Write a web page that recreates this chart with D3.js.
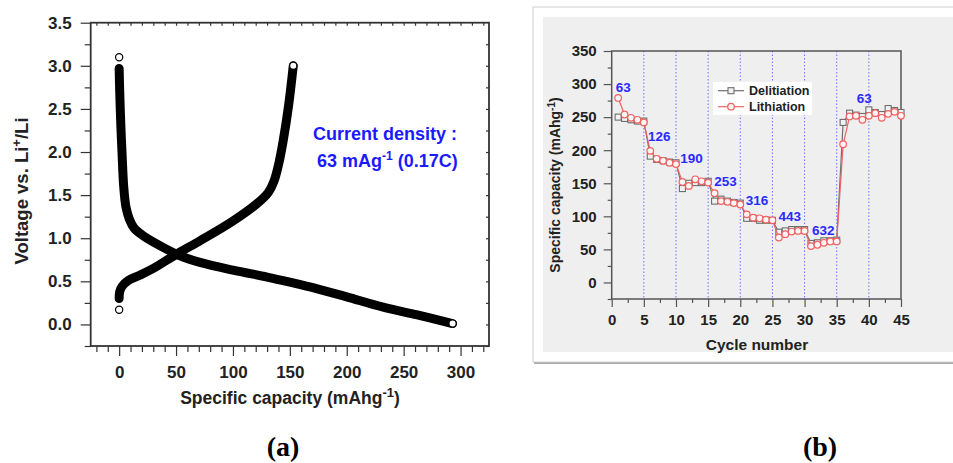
<!doctype html>
<html>
<head>
<script src="https://d3js.org/d3.v7.min.js"></script>
<style>
  body { margin: 0; background: #fff; }
  text { font-family: "Liberation Sans", Arial, sans-serif; }
</style>
</head>
<body>
<div id="chart"></div>
<script>

// ---- panel (a) data: voltage profile [capacity mAh/g, voltage V] ----
var lithiationCurve = [
  [0, 3.10], [0, 2.97], [0.5, 2.70], [1.5, 2.30], [2.5, 2.00], [4, 1.60], [6, 1.36],
  [9, 1.22], [13, 1.12], [20, 1.04], [35, 0.92], [53, 0.80], [71, 0.72], [100, 0.63],
  [130, 0.55], [150, 0.49], [175, 0.41], [200, 0.32], [232, 0.20], [262, 0.11], [293, 0.01]
];
var delithiationCurve = [
  [0, 0.17], [0, 0.30], [0.5, 0.38], [2.5, 0.44], [8, 0.51], [18, 0.57], [30, 0.65],
  [51, 0.82], [71, 0.97], [100, 1.20], [121, 1.40], [131, 1.53], [136, 1.66],
  [140, 1.85], [144, 2.12], [149, 2.55], [153, 3.00]
];
var voltTicks = [0, 0.5, 1.0, 1.5, 2.0, 2.5, 3.0, 3.5];
var capTicks = [0, 50, 100, 150, 200, 250, 300];

// ---- panel (b) data: rate capability ----
var cycles = d3.range(1, 46);
var delitiation = [250, 248, 246, 244, 244, 191, 186, 184, 182, 181,
                   142, 150, 151, 151, 153, 123, 126, 123, 121, 120,
                   97, 97, 94, 94, 94, 76, 78, 80, 80, 80,
                   59, 60, 63, 63, 64, 242, 256, 253, 251, 261,
                   257, 254, 263, 260, 257];
var lithiation = [279, 254, 249, 246, 242, 199, 187, 184, 181, 179,
                  152, 146, 156, 153, 151, 135, 123, 122, 120, 118,
                  103, 98, 97, 95, 94, 68, 73, 77, 78, 78,
                  55, 57, 60, 62, 62, 209, 251, 252, 246, 252,
                  256, 249, 255, 258, 252];
var rateLabels = ["63", "126", "190", "253", "316", "443", "632", "63"];
var rateLabelPos = [[1.8, 295], [7.4, 221], [12.4, 188], [17.7, 153], [22.6, 124], [27.7, 100], [32.9, 79], [39.3, 279]];
var dividerCycles = [5, 10, 15, 20, 25, 30, 35, 40];

var svg = d3.select("#chart").append("svg")
    .attr("width", 953)
    .attr("height", 463);

// ================= panel (a) =================
var xa = d3.scaleLinear().domain([-25, 325]).range([90.7, 489]);
var ya = d3.scaleLinear().domain([-0.25, 3.5]).range([346, 22.7]);

var ga = svg.append("g");

// minor ticks
ga.append("g")
    .attr("class", "tka")
    .attr("transform", "translate(0,346)")
    .call(d3.axisBottom(xa).tickValues(d3.range(-20, 330, 10).filter(function(d) { return d % 50 != 0; }))
      .tickSize(6).tickFormat(""));
ga.append("g")
    .attr("class", "tka")
    .attr("transform", "translate(90.7,0)")
    .call(d3.axisLeft(ya).tickValues(d3.range(-0.25, 3.5, 0.5)).tickSize(6).tickFormat(""));
// mirror ticks top / right
ga.append("g")
    .attr("class", "tka")
    .attr("transform", "translate(0,22.7)")
    .call(d3.axisBottom(xa).tickValues(d3.range(-20, 330, 10)).tickSize(3).tickFormat(""));
ga.append("g")
    .attr("class", "tka")
    .attr("transform", "translate(489,0)")
    .call(d3.axisLeft(ya).tickValues(d3.range(-0.25, 3.5, 0.25)).tickSize(3).tickFormat(""));

// major axes
ga.append("g")
    .attr("class", "tka axa")
    .attr("transform", "translate(0,346)")
    .call(d3.axisBottom(xa).tickValues(capTicks).tickSize(10).tickPadding(10).tickFormat(d3.format("d")));
ga.append("g")
    .attr("class", "tka axa")
    .attr("transform", "translate(90.7,0)")
    .call(d3.axisLeft(ya).tickValues(voltTicks).tickSize(10).tickPadding(9).tickFormat(d3.format(".1f")));

ga.selectAll(".axa text")
    .style("font-size", "17px")
    .style("font-weight", "bold")
    .attr("fill", "#222");
ga.selectAll(".tka .domain").remove();
ga.selectAll(".tka line").attr("stroke", "#333").attr("stroke-width", 1.2);

// frame
ga.append("rect")
    .attr("x", 90.7).attr("y", 22.7)
    .attr("width", 489 - 90.7).attr("height", 346 - 22.7)
    .attr("fill", "none").attr("stroke", "#333").attr("stroke-width", 1.8);

// thick dense-point bands
var lineA = d3.line()
    .curve(d3.curveCatmullRom.alpha(0.5))
    .x(function(d) { return xa(d[0]); })
    .y(function(d) { return ya(d[1]); });

[lithiationCurve, delithiationCurve].forEach(function(c) {
  ga.append("path")
      .datum(c.slice(1))
      .attr("d", lineA)
      .attr("fill", "none")
      .attr("stroke", "#000")
      .attr("stroke-width", 9)
      .attr("stroke-linecap", "round")
      .attr("stroke-linejoin", "round");
});

var ends = [lithiationCurve[0], lithiationCurve[lithiationCurve.length - 1],
            delithiationCurve[0], delithiationCurve[delithiationCurve.length - 1]];
ga.selectAll(".endpt")
    .data(ends)
    .enter().append("circle")
    .attr("cx", function(d) { return xa(d[0]); })
    .attr("cy", function(d) { return ya(d[1]); })
    .attr("r", 3.6)
    .attr("fill", "#fff")
    .attr("stroke", "#000")
    .attr("stroke-width", 1.2);

// labels
var vl = ga.append("text")
    .attr("transform", "translate(28,191) rotate(-90)")
    .attr("text-anchor", "middle")
    .style("font-size", "18.5px").style("font-weight", "bold")
    .attr("fill", "#222");
vl.append("tspan").text("Voltage vs. Li");
vl.append("tspan").attr("baseline-shift", "super").style("font-size", "13px").text("+");
vl.append("tspan").text("/Li");

var xl = ga.append("text")
    .attr("x", 290).attr("y", 404)
    .attr("text-anchor", "middle")
    .style("font-size", "17.5px").style("font-weight", "bold")
    .attr("fill", "#222");
xl.append("tspan").text("Specific capacity (mAhg");
xl.append("tspan").attr("baseline-shift", "super").style("font-size", "13px").text("-1");
xl.append("tspan").text(")");

var ann = ga.append("g").attr("fill", "#1a1aff")
    .style("font-size", "18px").style("font-weight", "bold");
ann.append("text").attr("x", 313).attr("y", 140).text("Current density :");
var ann2 = ann.append("text").attr("x", 317).attr("y", 167);
ann2.append("tspan").text("63 mAg");
ann2.append("tspan").attr("baseline-shift", "super").style("font-size", "12px").text("-1");
ann2.append("tspan").text(" (0.17C)");

svg.append("text")
    .attr("x", 283).attr("y", 456)
    .attr("text-anchor", "middle")
    .style("font-family", "'Liberation Serif', 'Times New Roman', serif")
    .style("font-size", "28px").style("font-weight", "bold")
    .text("(a)");

// ================= panel (b) =================
var gb = svg.append("g");

gb.append("rect")
    .attr("x", 534).attr("y", 9).attr("width", 430).attr("height", 355)
    .attr("fill", "#a8a8a8");
gb.append("rect")
    .attr("x", 533).attr("y", 7).attr("width", 430).attr("height", 355)
    .attr("fill", "#fff").attr("stroke", "#d0d0d0").attr("stroke-width", 1);
gb.append("rect")
    .attr("x", 543).attr("y", 17).attr("width", 420).attr("height", 335)
    .attr("fill", "#efefef");

var xb = d3.scaleLinear().domain([0, 45]).range([611.7, 901]);
var yb = d3.scaleLinear().domain([-25, 350]).range([299, 51]);

// dotted dividers
gb.selectAll(".divider")
    .data(dividerCycles)
    .enter().append("line")
    .attr("class", "divider")
    .attr("x1", function(d) { return xb(d); })
    .attr("x2", function(d) { return xb(d); })
    .attr("y1", yb(350)).attr("y2", yb(-25))
    .attr("stroke", "#7070ff")
    .attr("stroke-width", 1)
    .attr("stroke-dasharray", "1.5,2");

// minor ticks
gb.append("g")
    .attr("class", "tkb")
    .attr("transform", "translate(0,299)")
    .call(d3.axisBottom(xb).tickValues(d3.range(2.5, 45, 5)).tickSize(4).tickFormat(""));
gb.append("g")
    .attr("class", "tkb")
    .attr("transform", "translate(611.7,0)")
    .call(d3.axisLeft(yb).tickValues(d3.range(-25, 350, 50)).tickSize(4).tickFormat(""));

gb.append("g")
    .attr("class", "tkb axb")
    .attr("transform", "translate(0,299)")
    .call(d3.axisBottom(xb).tickValues(d3.range(0, 50, 5)).tickSize(8).tickPadding(7));
gb.append("g")
    .attr("class", "tkb axb")
    .attr("transform", "translate(611.7,0)")
    .call(d3.axisLeft(yb).tickValues(d3.range(0, 400, 50)).tickSize(8).tickPadding(7));

gb.selectAll(".axb text")
    .style("font-size", "15px").style("font-weight", "bold")
    .attr("fill", "#222");
gb.selectAll(".tkb .domain").remove();
gb.selectAll(".tkb line").attr("stroke", "#555").attr("stroke-width", 1.2);

gb.append("rect")
    .attr("x", 611.7).attr("y", 51)
    .attr("width", 901 - 611.7).attr("height", 299 - 51)
    .attr("fill", "none").attr("stroke", "#555").attr("stroke-width", 1.5);

// series
var lineB = d3.line()
    .x(function(d, i) { return xb(cycles[i]); })
    .y(function(d) { return yb(d); });

gb.append("path")
    .datum(delitiation)
    .attr("d", lineB)
    .attr("fill", "none").attr("stroke", "#6e6e6e").attr("stroke-width", 1.2);
gb.selectAll(".sq")
    .data(delitiation)
    .enter().append("rect")
    .attr("class", "sq")
    .attr("x", function(d, i) { return xb(cycles[i]) - 3; })
    .attr("y", function(d) { return yb(d) - 3; })
    .attr("width", 6).attr("height", 6)
    .attr("fill", "#f2f2f2").attr("stroke", "#6e6e6e").attr("stroke-width", 1.1);

gb.append("path")
    .datum(lithiation)
    .attr("d", lineB)
    .attr("fill", "none").attr("stroke", "#f06262").attr("stroke-width", 1.2);
gb.selectAll(".ci")
    .data(lithiation)
    .enter().append("circle")
    .attr("class", "ci")
    .attr("cx", function(d, i) { return xb(cycles[i]); })
    .attr("cy", function(d) { return yb(d); })
    .attr("r", 3.3)
    .attr("fill", "#fff4f4").attr("stroke", "#f06262").attr("stroke-width", 1.2);

// rate labels
gb.selectAll(".rate")
    .data(rateLabels)
    .enter().append("text")
    .attr("class", "rate")
    .attr("x", function(d, i) { return xb(rateLabelPos[i][0]); })
    .attr("y", function(d, i) { return yb(rateLabelPos[i][1]); })
    .attr("text-anchor", "middle")
    .attr("dy", "0.35em")
    .attr("fill", "#2a2aff")
    .style("font-size", "13.5px").style("font-weight", "bold")
    .text(function(d) { return d; });

// legend
var lg = gb.append("g");
lg.append("rect")
    .attr("x", 713).attr("y", 82).attr("width", 99).attr("height", 33)
    .attr("fill", "#fff");
lg.append("line").attr("x1", 718).attr("x2", 744).attr("y1", 90.7).attr("y2", 90.7)
    .attr("stroke", "#6e6e6e").attr("stroke-width", 1.2);
lg.append("rect").attr("x", 728).attr("y", 87.7).attr("width", 6).attr("height", 6)
    .attr("fill", "#f2f2f2").attr("stroke", "#6e6e6e").attr("stroke-width", 1.1);
lg.append("line").attr("x1", 718).attr("x2", 744).attr("y1", 106.7).attr("y2", 106.7)
    .attr("stroke", "#f06262").attr("stroke-width", 1.2);
lg.append("circle").attr("cx", 731).attr("cy", 106.7).attr("r", 3.3)
    .attr("fill", "#fff4f4").attr("stroke", "#f06262").attr("stroke-width", 1.2);
lg.append("text").attr("x", 749).attr("y", 95).text("Delitiation")
    .style("font-size", "12.5px").style("font-weight", "bold").attr("fill", "#222");
lg.append("text").attr("x", 749).attr("y", 111).text("Lithiation")
    .style("font-size", "12.5px").style("font-weight", "bold").attr("fill", "#222");

// axis titles
gb.append("text")
    .attr("x", 757).attr("y", 350)
    .attr("text-anchor", "middle")
    .style("font-size", "15.5px").style("font-weight", "bold")
    .attr("fill", "#222")
    .text("Cycle number");

var yl = gb.append("text")
    .attr("transform", "translate(560,185) rotate(-90)")
    .attr("text-anchor", "middle")
    .style("font-size", "14px").style("font-weight", "bold")
    .attr("fill", "#222");
yl.append("tspan").text("Specific capacity (mAhg");
yl.append("tspan").attr("baseline-shift", "super").style("font-size", "10px").text("-1");
yl.append("tspan").text(")");

svg.append("text")
    .attr("x", 820).attr("y", 456)
    .attr("text-anchor", "middle")
    .style("font-family", "'Liberation Serif', 'Times New Roman', serif")
    .style("font-size", "28px").style("font-weight", "bold")
    .text("(b)");

</script>
</body>
</html>
